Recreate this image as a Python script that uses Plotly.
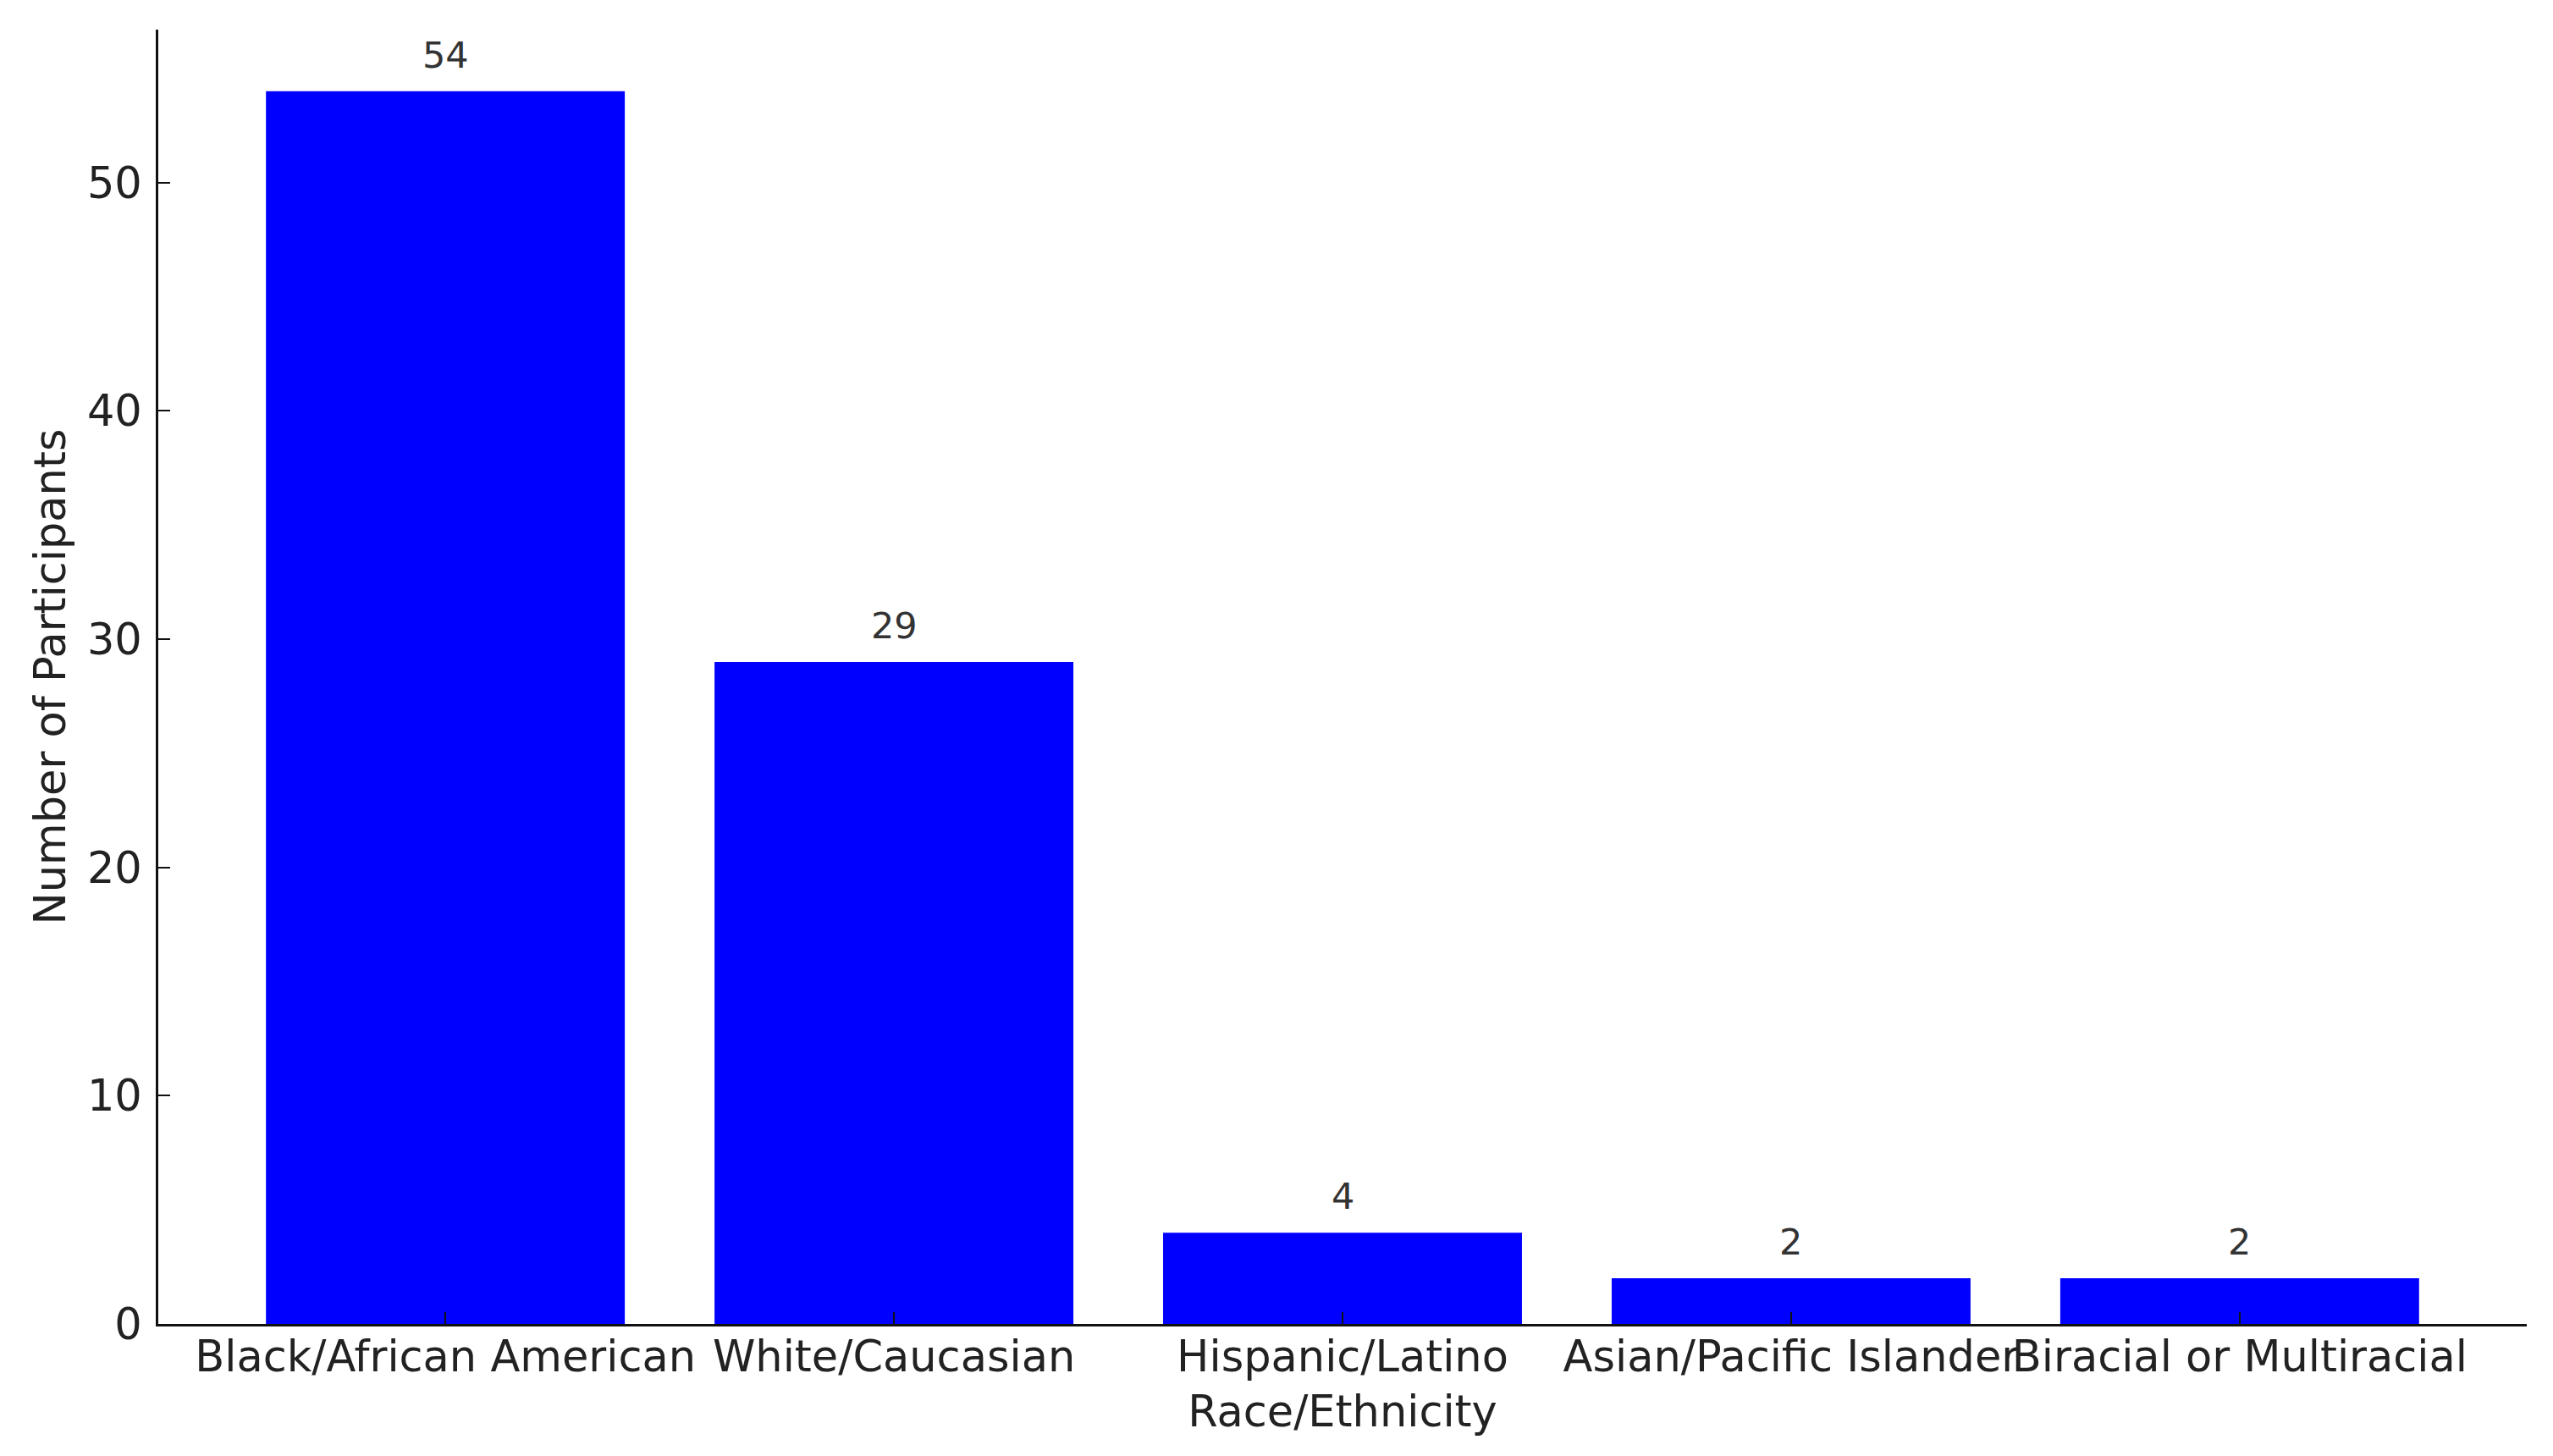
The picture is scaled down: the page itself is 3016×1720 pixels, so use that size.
import plotly.graph_objects as go

categories = ["Black/African American", "White/Caucasian", "Hispanic/Latino",
              "Asian/Pacific Islander", "Biracial or Multiracial"]
participants = [54, 29, 4, 2, 2]
y_ticks = [0, 10, 20, 30, 40, 50]

FONT = "DejaVu Sans"

fig = go.Figure()
fig.add_trace(go.Bar(
    x=categories,
    y=participants,
    width=0.8,
    marker=dict(color="#0000FF", line=dict(width=0)),
    showlegend=False,
    hoverinfo="x+y",
))

for c, v in zip(categories, participants):
    fig.add_annotation(
        x=c, y=v, text=str(v), showarrow=False,
        xanchor="center", yanchor="bottom", yshift=16,
        font=dict(family=FONT, size=43, color="#333333"),
    )

fig.update_layout(
    width=3016, height=1720,
    margin=dict(l=179, r=39, t=27, b=164, pad=0),
    paper_bgcolor="white", plot_bgcolor="white",
    font=dict(family=FONT, size=51, color="#222222"),
    bargap=0.2,
)

fig.update_xaxes(
    type="category",
    range=[-0.64, 4.64],
    automargin=False,
    tickangle=0,
    showline=True, linecolor="#111111", linewidth=3,
    ticks="inside", ticklen=14, tickwidth=2, tickcolor="#111111",
    showgrid=False, zeroline=False,
    tickfont=dict(family=FONT, size=51, color="#222222"),
    ticklabelstandoff=-8,
    title=dict(text="Race/Ethnicity", font=dict(family=FONT, size=51, color="#222222"), standoff=19),
    mirror=False,
)
fig.update_yaxes(
    range=[0, 56.7],
    automargin=False,
    tickvals=y_ticks,
    showline=True, linecolor="#111111", linewidth=3,
    ticks="inside", ticklen=14, tickwidth=2, tickcolor="#111111",
    showgrid=False, zeroline=False,
    tickfont=dict(family=FONT, size=51, color="#222222"),
    ticklabelstandoff=6,
    title=dict(text="Number of Participants", font=dict(family=FONT, size=51, color="#222222"), standoff=10),
    mirror=False,
)

fig.write_html("out.html")
